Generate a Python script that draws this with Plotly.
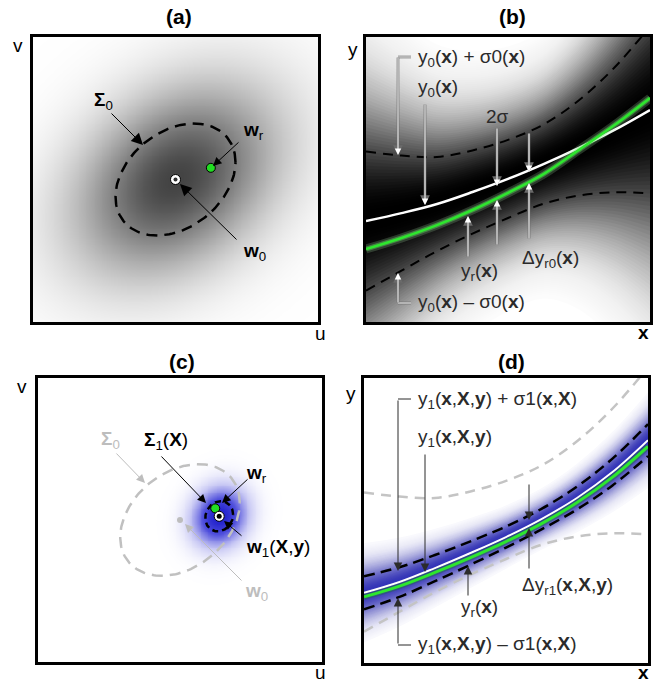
import numpy as np
import plotly.graph_objects as go

W, H = 659, 683
FONT = "Liberation Sans, Arial, sans-serif"

# ---------------- data ----------------
# weight space, panels (a) and (c)
w0 = [0.500, 0.500]
Sigma0 = [[0.0443, 0.0128], [0.0128, 0.0386]]
w_r = [0.624, 0.541]
w1 = [0.638, 0.513]
Sigma1 = [[0.0024, 0.0003], [0.0003, 0.0028]]

# function space, panels (b) and (d), sampled at x_pts
x_pts = [0.0, 0.125, 0.25, 0.375, 0.5, 0.625, 0.75, 0.875, 1.0]
y0 = [0.354, 0.382, 0.414, 0.456, 0.502, 0.554, 0.611, 0.674, 0.744]
sigma0 = [0.244, 0.202, 0.165, 0.146, 0.137, 0.139, 0.167, 0.219, 0.293]
yr_b = [0.256, 0.295, 0.340, 0.393, 0.453, 0.519, 0.604, 0.691, 0.786]
y1 = [0.246, 0.284, 0.333, 0.386, 0.442, 0.505, 0.579, 0.670, 0.782]
sigma1 = [0.058, 0.052, 0.046, 0.041, 0.037, 0.036, 0.040, 0.047, 0.056]
yr_d = [0.232, 0.270, 0.318, 0.370, 0.426, 0.489, 0.563, 0.652, 0.760]

# ---------------- helpers ----------------
Y0, S0, Y1, S1 = map(np.array, (y0, sigma0, y1, sigma1))

fig = go.Figure()


def sc(**kw):
    kw.setdefault("hoverinfo", "skip")
    kw.setdefault("showlegend", False)
    fig.add_trace(go.Scatter(**kw))


def gauss_grid(mu, S, n=161):
    g = np.linspace(0, 1, n)
    U, V = np.meshgrid(g, g)
    Si = np.linalg.inv(np.array(S))
    du, dv = U - mu[0], V - mu[1]
    m2 = Si[0, 0] * du * du + 2 * Si[0, 1] * du * dv + Si[1, 1] * dv * dv
    return g, m2


def ellipse(mu, S, n=200):
    L = np.linalg.cholesky(np.array(S))
    t = np.linspace(0, 2 * np.pi, n)
    pts = L @ np.vstack([np.cos(t), np.sin(t)])
    return mu[0] + pts[0], mu[1] + pts[1]


def layer_alphas(ks, c):
    T = lambda d: 1 - np.exp(-d * d / (2 * c * c))
    mids = [(ks[j] + ks[j + 1]) / 2 for j in range(len(ks) - 1)] + [ks[-1] / 2]
    Ts = [T(m) for m in mids]
    al = [1 - Ts[0]] + [1 - Ts[j] / Ts[j - 1] for j in range(1, len(Ts))]
    return al


def band(xa, ya, yc, s, ks, c, rgb):
    for k, a in zip(ks, layer_alphas(ks, c)):
        sc(x=x_pts, y=yc - k * s, mode="lines", line=dict(width=0, shape="spline"), xaxis=xa, yaxis=ya)
        sc(x=x_pts, y=yc + k * s, mode="lines", line=dict(width=0, shape="spline"),
           fill="tonexty", fillcolor=f"rgba({rgb},{a:.5f})", xaxis=xa, yaxis=ya)


# ---------------- panel (a) ----------------
g, m2 = gauss_grid(w0, Sigma0)
fig.add_trace(go.Heatmap(x=g, y=g, z=np.exp(-m2 / (2 * 1.15 ** 2)), zmin=0, zmax=1,
                         colorscale=[[0, "#ffffff"], [1, "#434343"]], showscale=False,
                         zsmooth="best", hoverinfo="skip", xaxis="x", yaxis="y"))
ex, ey = ellipse(w0, Sigma0)
sc(x=ex, y=ey, mode="lines", line=dict(color="black", width=2.5, dash="11px,7px"), xaxis="x", yaxis="y")
sc(x=[w0[0]], y=[w0[1]], mode="markers", marker=dict(size=10, color="white", line=dict(color="black", width=1)), xaxis="x", yaxis="y")
sc(x=[w0[0]], y=[w0[1]], mode="markers", marker=dict(size=4, color="#303030"), xaxis="x", yaxis="y")
sc(x=[w_r[0]], y=[w_r[1]], mode="markers", marker=dict(size=9, color="#22dd22", line=dict(color="black", width=1)), xaxis="x", yaxis="y")

# ---------------- panel (b) ----------------
band("x2", "y2", Y0, S0, list(np.round(np.arange(3.4, 0.02, -0.05), 3)), 1.15, "0,0,0")
sc(x=x_pts, y=Y0 + S0, mode="lines", line=dict(color="black", width=2, dash="10px,7px", shape="spline"), xaxis="x2", yaxis="y2")
sc(x=x_pts, y=Y0 - S0, mode="lines", line=dict(color="black", width=2, dash="10px,7px", shape="spline"), xaxis="x2", yaxis="y2")
sc(x=x_pts, y=y0, mode="lines", line=dict(color="white", width=2.5, shape="spline"), xaxis="x2", yaxis="y2")
sc(x=x_pts, y=yr_b, mode="lines", line=dict(color="rgba(170,225,170,0.22)", width=9, shape="spline"), xaxis="x2", yaxis="y2")
sc(x=x_pts, y=yr_b, mode="lines", line=dict(color="rgba(100,235,100,0.4)", width=5, shape="spline"), xaxis="x2", yaxis="y2")
sc(x=x_pts, y=yr_b, mode="lines", line=dict(color="#2ee62e", width=2.6, shape="spline"), xaxis="x2", yaxis="y2")

# ---------------- panel (c) ----------------
g, m2 = gauss_grid(w1, Sigma1)
fig.add_trace(go.Heatmap(x=g, y=g, z=np.exp(-m2 / (2 * 1.3 ** 2)), zmin=0, zmax=1,
                         colorscale=[[0, "#ffffff"], [0.25, "#c8c8f4"], [0.65, "#5050dc"], [1, "#2020cc"]],
                         showscale=False, zsmooth="best", hoverinfo="skip", xaxis="x3", yaxis="y3"))
sc(x=ex, y=ey, mode="lines", line=dict(color="#c0c0c0", width=2.5, dash="11px,7px"), xaxis="x3", yaxis="y3")
e1x, e1y = ellipse(w1, Sigma1, 120)
sc(x=e1x, y=e1y, mode="lines", line=dict(color="black", width=2.5, dash="6px,4px"), xaxis="x3", yaxis="y3")
sc(x=[w0[0]], y=[w0[1]], mode="markers", marker=dict(size=6, color="#bdbdbd"), xaxis="x3", yaxis="y3")
sc(x=[w_r[0]], y=[w_r[1]], mode="markers", marker=dict(size=9, color="#22dd22", line=dict(color="black", width=1)), xaxis="x3", yaxis="y3")
sc(x=[w1[0]], y=[w1[1]], mode="markers", marker=dict(size=10, color="white", line=dict(color="black", width=1)), xaxis="x3", yaxis="y3")
sc(x=[w1[0]], y=[w1[1]], mode="markers", marker=dict(size=5, color="black"), xaxis="x3", yaxis="y3")

# ---------------- panel (d) ----------------
band("x4", "y4", Y1, S1, list(np.round(np.arange(3.0, 0.02, -0.075), 3)), 1.1, "52,52,184")
for sgn in (1, -1):
    sc(x=x_pts, y=Y0 + sgn * S0, mode="lines", line=dict(color="#c4c4c4", width=2.5, dash="10px,7px", shape="spline"), xaxis="x4", yaxis="y4")
for sgn in (1, -1):
    sc(x=x_pts, y=Y1 + sgn * S1, mode="lines", line=dict(color="black", width=2.5, dash="11px,6px", shape="spline"), xaxis="x4", yaxis="y4")
sc(x=x_pts, y=y1, mode="lines", line=dict(color="white", width=2, shape="spline"), xaxis="x4", yaxis="y4")
sc(x=x_pts, y=yr_d, mode="lines", line=dict(color="rgba(30,120,30,0.35)", width=6, shape="spline"), xaxis="x4", yaxis="y4")
sc(x=x_pts, y=yr_d, mode="lines", line=dict(color="#2ee62e", width=3, shape="spline"), xaxis="x4", yaxis="y4")

# ---------------- annotations ----------------
ann = []
shapes = []


def T(s, px, py, xanchor="center", size=19, color="black"):
    ann.append(dict(text=s, x=px / W, y=1 - py / H, xref="paper", yref="paper", showarrow=False,
                    xanchor=xanchor, yanchor="middle", font=dict(size=size, color=color, family=FONT)))


def A(tail, tip, color="black", width=1, size=1.7, head=2):
    ann.append(dict(text="", x=tip[0] / W, y=1 - tip[1] / H, xref="paper", yref="paper", showarrow=True,
                    ax=tail[0] - tip[0], ay=tail[1] - tip[1], axref="pixel", ayref="pixel",
                    arrowcolor=color, arrowwidth=width, arrowsize=size, arrowhead=head, standoff=0))


def A_open(tail, tip, color="black", fill="white"):
    """arrow with an outlined (hollow) head"""
    A(tail, tip, color=color, width=1, size=2.3)
    d = np.array(tip, float) - np.array(tail, float)
    u = d / np.hypot(*d)
    itip = np.array(tip, float) - 2.6 * u
    itail = itip - 3.0 * u
    A(tuple(itail), tuple(itip), color=fill, width=1, size=1.25)


def A2(tail, tip):
    A(tail, tip, color="#6a6a6a", width=2.6, size=0.75)
    A(tail, tip, color="white", width=1, size=1.3)


def L(p, q, color="black", width=1):
    shapes.append(dict(type="line", xref="paper", yref="paper", x0=p[0] / W, y0=1 - p[1] / H,
                       x1=q[0] / W, y1=1 - q[1] / H, line=dict(color=color, width=width)))


# titles & axis letters
for s, px, py in [("(a)", 179, 16), ("(b)", 512, 16), ("(c)", 182, 361), ("(d)", 511, 361)]:
    T(f"<b>{s}</b>", px, py, size=21)
T("v", 18, 46); T("u", 320, 333)
T("y", 353, 49); T("<b>x</b>", 643, 332)
T("v", 22, 386); T("u", 320, 672)
T("y", 351, 393); T("<b>x</b>", 643, 672)

# panel (a)
T("<b>Σ</b><sub>0</sub>", 103, 101)
T("<b>w</b><sub>r</sub>", 253, 131)
T("<b>w</b><sub>0</sub>", 254, 252)
A_open((110, 112), (143, 145))
A((240, 141), (213, 166))
A_open((238, 241), (180, 184))

# panel (b)
tc = "#2b2b2b"
T("y<sub>0</sub>(<b>x</b>) + σ0(<b>x</b>)", 416, 58, "left", color=tc)
T("y<sub>0</sub>(<b>x</b>)", 416, 88, "left", color=tc)
T("2σ", 497, 116, color=tc)
T("Δy<sub>r0</sub>(<b>x</b>)", 520, 259, "left", color=tc)
T("y<sub>r</sub>(<b>x</b>)", 459, 272, "left", color=tc)
T("y<sub>0</sub>(<b>x</b>) – σ0(<b>x</b>)", 416, 303, "left", color=tc)
L((411, 57), (398, 57), "#6a6a6a", 2.6); L((411, 57), (398, 57), "white", 1)
L((411, 303), (398, 303), "#6a6a6a", 2.6); L((411, 303), (398, 303), "white", 1)
A2((398, 56), (398, 155))
A2((398, 304), (398, 273))
A2((425, 103), (425, 205))
A2((497, 127), (497, 186))
A2((497, 246), (497, 200))
A2((529, 132), (529, 172))
A2((529, 240), (529, 183))
A2((468, 258), (468, 216))

# panel (c)
gc = "#bdbdbd"
T("<b>Σ</b><sub>0</sub>", 110, 440, color=gc)
T("<b>Σ</b><sub>1</sub>(<b>X</b>)", 166, 441)
T("<b>w</b><sub>r</sub>", 256, 474)
T("<b>w</b><sub>1</sub>(<b>X</b>,<b>y</b>)", 244, 548, "left")
T("<b>w</b><sub>0</sub>", 256, 592, color=gc)
A((115, 452), (145, 483), color=gc)
A((160, 455), (206, 503))
A((249, 478), (222, 503))
A((243, 537), (224, 521))
A((243, 582), (185, 524), color=gc)

# panel (d)
T("y<sub>1</sub>(<b>x</b>,<b>X</b>,<b>y</b>) + σ1(<b>x</b>,<b>X</b>)", 416, 400, "left", color=tc)
T("y<sub>1</sub>(<b>x</b>,<b>X</b>,<b>y</b>)", 416, 438, "left", color=tc)
T("y<sub>r</sub>(<b>x</b>)", 459, 608, "left", color=tc)
T("Δy<sub>r1</sub>(<b>x</b>,<b>X</b>,<b>y</b>)", 520, 586, "left", color=tc)
T("y<sub>1</sub>(<b>x</b>,<b>X</b>,<b>y</b>) – σ1(<b>x</b>,<b>X</b>)", 416, 645, "left", color=tc)
L((411, 399), (398, 399), tc, 1)
L((411, 645), (398, 645), tc, 1)
A((398, 399), (398, 571), color=tc)
A((398, 645), (398, 598), color=tc)
A((425, 453), (425, 572), color=tc)
A((468, 597), (468, 566), color=tc)
A((529, 483), (529, 520), color=tc)
A((529, 570), (529, 528), color=tc)

# ---------------- layout ----------------
def px_dom(a, b, total, flip=False):
    if flip:
        return [1 - b / total, 1 - a / total]
    return [a / total, b / total]


boxes = {1: (33, 318, 37, 322), 2: (366, 650, 37, 322), 3: (38, 322, 378, 662), 4: (364, 648, 378, 663)}
lay = dict(width=W, height=H, margin=dict(l=0, r=0, t=0, b=0), autosize=False,
           paper_bgcolor="white", plot_bgcolor="white", annotations=ann, shapes=shapes,
           font=dict(family=FONT))
for i, (x0p, x1p, y0p, y1p) in boxes.items():
    sfx = "" if i == 1 else str(i)
    common = dict(range=[0, 1], showline=True, mirror=True, linecolor="black", linewidth=2.5,
                  showgrid=False, zeroline=False, showticklabels=False, ticks="", fixedrange=True)
    lay["xaxis" + sfx] = dict(domain=px_dom(x0p, x1p, W), anchor="y" + sfx, **common)
    lay["yaxis" + sfx] = dict(domain=px_dom(y0p, y1p, H, flip=True), anchor="x" + sfx, **common)
fig.update_layout(**lay)
fig.write_html("out.html", config={"displayModeBar": False},
               post_script="document.body.style.margin='0px';document.body.style.overflow='hidden';")
